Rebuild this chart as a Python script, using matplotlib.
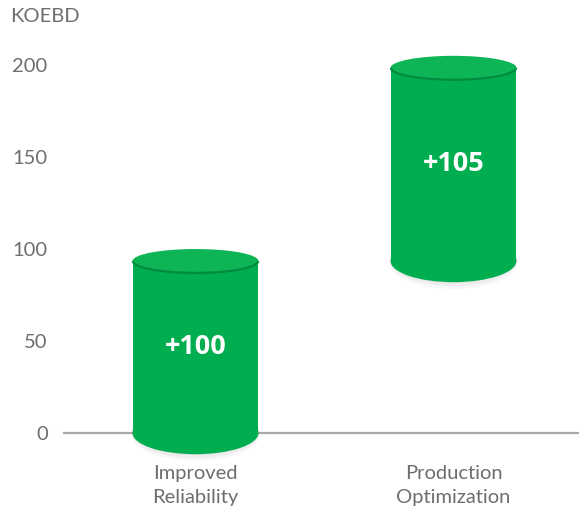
import matplotlib
matplotlib.use("Agg")
import matplotlib.pyplot as plt
from matplotlib.patches import Ellipse, Rectangle, Arc

plt.rcParams['font.family'] = ['Lato', 'DejaVu Sans']

categories = ["Improved\nReliability", "Production\nOptimization"]
increments = [100, 105]
value_labels = ["+100", "+105"]
y_ticks = [0, 50, 100, 150, 200]
unit_label = "KOEBD"

GREEN = "#00AE4F"
GREEN_TOP = "#0DB556"
GREEN_RIM = "#008C3E"
TEXT_GRAY = "#6e6e6e"

W, H = 579, 518
fig = plt.figure(figsize=(W / 100, H / 100), dpi=100)
ax = fig.add_axes([63 / W, (H - 470) / H, (W - 63) / W, 430 / H])
ax.set_xlim(-0.5136, 1.4864)
ax.set_ylim(-20.1, 213.6)
for s in ax.spines.values():
    s.set_visible(False)

# baseline
ax.axhline(0, color="#a8a8a8", lw=1.6, zorder=1)

bar_w = 0.488
top_h = 6.5      # half-height of the top ellipse (data units)
bot_h = 11.5     # depth of the bottom curve (data units)

base = 0.0
running = 0.0
for i, (inc, lab) in enumerate(zip(increments, value_labels)):
    running += inc
    top_c = running - top_h
    x0 = i - bar_w / 2
    # soft shadow under the bottom curve
    for k, a in enumerate([0.05, 0.04, 0.03]):
        ax.add_patch(Ellipse((i, base + 1.0 - k * 0.8), bar_w * (1.0 + 0.01 * k),
                             2 * bot_h + 3.0 + k * 1.6, fc="#000000", ec="none",
                             alpha=a, zorder=2))
    # bottom curve
    ax.add_patch(Ellipse((i, base), bar_w, 2 * bot_h, fc=GREEN, ec="none", zorder=3))
    # body
    ax.add_patch(Rectangle((x0, base), bar_w, top_c - base, fc=GREEN, ec="none", zorder=3))
    # top ellipse with darker rim on the front edge
    ax.add_patch(Ellipse((i, top_c), bar_w, 2 * top_h, fc=GREEN_TOP, ec="none", zorder=4))
    ax.add_patch(Arc((i, top_c), bar_w * 0.995, 2 * top_h, theta1=190, theta2=350,
                     color=GREEN_RIM, lw=1.6, zorder=5))
    ax.text(i, (base + top_c) / 2, lab, ha="center", va="center", color="white",
            fontsize=19.5, fontweight="bold", family=["Open Sans", "DejaVu Sans"], zorder=6)
    base = top_c

ax.set_xticks([])
ax.set_yticks(y_ticks)
ax.set_yticklabels([str(v) for v in y_ticks], color=TEXT_GRAY, fontsize=14.5)
ax.tick_params(axis="y", length=0, pad=11)

for i, c in enumerate(categories):
    ax.text(i, -17.5, c, ha="center", va="top", color=TEXT_GRAY, fontsize=14.5,
            linespacing=1.5, clip_on=False)

fig.text(10 / W, 1 - 17 / H, unit_label, ha="left", va="center", color=TEXT_GRAY,
         fontsize=14.5)

fig.savefig("out.png", dpi=100)
